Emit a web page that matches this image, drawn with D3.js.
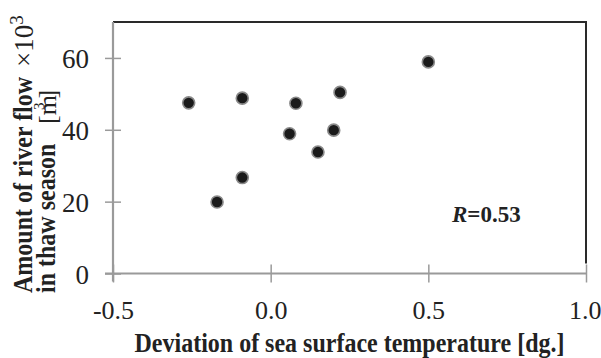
<!DOCTYPE html>
<html><head><meta charset="utf-8">
<script src="https://cdn.jsdelivr.net/npm/d3@7"></script>
<style>body{margin:0;background:#fff}svg{display:block}</style>
</head><body>
<script>
const sstDeviation = [-0.26, -0.09, 0.08, 0.22, 0.50, 0.06, 0.20, 0.15, -0.09, -0.17];
const riverFlow    = [47.5, 48.8, 47.4, 50.4, 58.9, 38.9, 39.9, 33.8, 26.7, 19.9];
const xTicks = [-0.5, 0.0, 0.5, 1.0];
const xTickLabels = ["-0.5", "0.0", "0.5", "1.0"];
const yTicks = [0, 20, 40, 60];
const yTickLabels = ["0", "20", "40", "60"];
const xTitle = "Deviation of sea surface temperature [dg.]";
const yTitle1 = "Amount of river flow";
const yTitle2 = "in thaw season";
const rText = "=0.53";

const W = 601, H = 358;
const svg = d3.select("body").append("svg").attr("width", W).attr("height", H);
const x = d3.scaleLinear().domain([-0.5, 1.0]).range([113, 586]);
const y = d3.scaleLinear().domain([0, 70]).range([273.5, 22]);

const gray = "#9a9a9a", dark = "#2a2a2a";
const tickFont = "'Liberation Serif', 'Times New Roman', serif";
const titleFont = "'Liberation Serif', 'Times New Roman', serif";

// frame (top & right)
svg.append("path")
  .attr("d", `M${x(-0.5)},${y(70)}H${x(1.0)}V${y(0) - 10}`)
  .attr("fill", "none").attr("stroke", dark).attr("stroke-width", 2);

// x axis
const xAxis = svg.append("g").attr("transform", `translate(0,${y(0)})`)
  .call(d3.axisBottom(x).tickValues(xTicks).tickFormat((d, i) => xTickLabels[i]).tickSize(18).tickPadding(0));
xAxis.select(".domain").attr("d", `M${x(-0.5) - 8},0H${x(1.0)}`).attr("stroke", gray).attr("stroke-width", 2.2);
xAxis.selectAll(".tick line").attr("y1", -9).attr("y2", 9).attr("stroke", gray).attr("stroke-width", 1.5);
xAxis.selectAll(".tick text").attr("y", 45).attr("dy", null)
  .attr("font-family", tickFont).attr("font-size", 26).attr("fill", "#222")
  .attr("text-anchor", (d, i) => i === xTicks.length - 1 ? "end" : "middle")
  .attr("x", (d, i) => i === xTicks.length - 1 ? 15 : 0);

// y axis
const yAxis = svg.append("g").attr("transform", `translate(${x(-0.5)},0)`)
  .call(d3.axisLeft(y).tickValues(yTicks).tickFormat((d, i) => yTickLabels[i]).tickSize(16).tickPadding(0));
yAxis.select(".domain").attr("d", `M0,${y(70)}V${y(0) + 8}`).attr("stroke", gray).attr("stroke-width", 2.2);
yAxis.selectAll(".tick line").attr("x1", -8).attr("x2", 8).attr("stroke", gray).attr("stroke-width", 1.5);
yAxis.selectAll(".tick text").attr("x", -24).attr("dy", "0.36em")
  .attr("font-family", tickFont).attr("font-size", 27).attr("fill", "#222");

// points
svg.append("g").selectAll("circle").data(sstDeviation).join("circle")
  .attr("cx", d => x(d)).attr("cy", (d, i) => y(riverFlow[i]))
  .attr("r", 6).attr("fill", "#1b1b1b").attr("stroke", "#8a8a8a").attr("stroke-width", 1.6);

// x title
svg.append("text").attr("transform", `translate(${(x(-0.5) + x(1.0)) / 2},352) scale(1,1.1)`)
  .attr("text-anchor", "middle").attr("font-family", titleFont).attr("font-weight", "bold")
  .attr("font-size", 24).attr("fill", "#222").text(xTitle);

// y title
const yt = svg.append("g").attr("font-family", titleFont).attr("fill", "#222");
yt.append("text").attr("transform", "translate(32,293) rotate(-90) scale(1,1.1)")
  .attr("font-weight", "bold").attr("font-size", 24).text(yTitle1);
const xt = yt.append("text").attr("transform", "translate(33,67) rotate(-90)").attr("font-size", 27);
xt.append("tspan").text("×10");
xt.append("tspan").attr("dy", -10).attr("font-size", 19).text("3");
yt.append("text").attr("transform", "translate(55,293) rotate(-90) scale(1,1.1)")
  .attr("font-weight", "bold").attr("font-size", 24).text(yTitle2);
const mt = yt.append("text").attr("transform", "translate(56,124) rotate(-90)").attr("font-size", 26);
mt.append("tspan").text("[m");
mt.append("tspan").attr("dx", -15).attr("dy", -12).attr("font-size", 15).text("3");
mt.append("tspan").attr("dx", 4).attr("dy", 12).text("]");

// R label
const rt = svg.append("text").attr("x", 452).attr("y", 222).attr("font-family", titleFont)
  .attr("font-weight", "bold").attr("font-size", 23).attr("fill", "#222");
rt.append("tspan").attr("font-style", "italic").text("R");
rt.append("tspan").text(rText);
</script>
</body></html>
